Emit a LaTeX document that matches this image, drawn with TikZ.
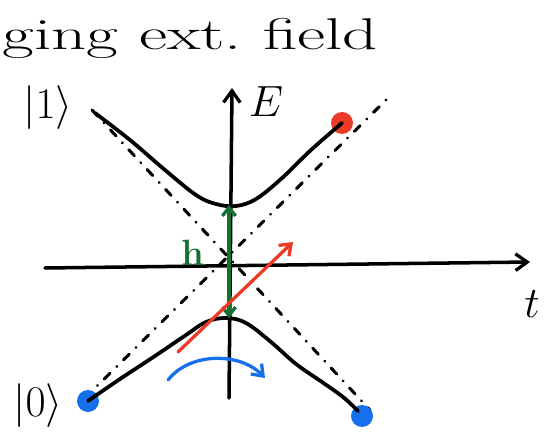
\documentclass[tikz,border=0pt]{standalone}
\usepackage{graphicx}
\usepackage{tikz}
\usetikzlibrary{arrows.meta, positioning}
\definecolor{dotred}{RGB}{236,58,38}
\definecolor{dotblue}{RGB}{22,112,236}
\definecolor{gapgreen}{RGB}{22,112,52}
\newcommand{\biglbl}[1]{\scalebox{1.5}{#1}}

\begin{document}
\begin{tikzpicture}[
  x=0.03cm, y=-0.03cm,
  every node/.style={font=\fontsize{24}{28}\selectfont},
  axis/.style={line width=3pt, line cap=round, -{Straight Barb[length=3.5mm, width=5mm, line width=2.8pt]}},
  branch/.style={line width=3.2pt, line cap=round, line join=round},
  asym/.style={line width=2.6pt, line cap=round, dash pattern=on 7pt off 8pt on 0.1pt off 8pt},
  state/.style={circle, fill, inner sep=0pt, minimum size=0.66cm},
  hand/.style={line width=2.8pt, line cap=round}
]
  \useasboundingbox (0,0) rectangle (555,432);

  % Title
  \node[anchor=base west, inner sep=0pt, xscale=1.55, font=\fontsize{38}{42}\selectfont] (title) at (2,50) {ging ext.\ field};

  % Axes
  \coordinate (tl) at (45,268);
  \coordinate (tr) at (530,262);
  \coordinate (eb) at (229,398);
  \coordinate (et) at (232,88);
  \draw[axis] (tl) -- (tr);
  \draw[axis] (eb) -- (et);
  \node (E) at (266,102) {\biglbl{$E$}};
  \node (t) at (532,304) {\biglbl{$t$}};

  % Asymptotes
  \coordinate (a1) at (92,110);
  \coordinate (a2) at (370,410);
  \coordinate (b1) at (85,398);
  \coordinate (b2) at (388,98);
  \draw[asym] (a1) -- (a2);
  \draw[asym] (b1) -- (b2);

  % Levels
  \node[state, dotred] (up) at (342,123) {};
  \node[state, dotblue] (lo1) at (88,401) {};
  \node[state, dotblue] (lo2) at (362,416) {};
  \draw[branch] plot[smooth, tension=0.6] coordinates {(95,113) (130,140) (165,170) (196,195) (216,204) (236,206) (256,199) (281,179) (311,150) (342,123)};
  \draw[branch] plot[smooth, tension=0.6] coordinates {(88,401) (120,379) (155,356) (186,335) (206,322) (226,318) (246,323) (271,342) (296,364) (322,382) (343,397) (358,411)};

  \node (one) at (48,108) {\biglbl{$|1\rangle$}};
  \node (zero) at (38,406) {\biglbl{$|0\rangle$}};

  % Gap
  \coordinate (gt) at (229,205);
  \coordinate (gb) at (229,318);
  \draw[hand, gapgreen, {Straight Barb[length=2.5mm, width=4mm]}-{Straight Barb[length=2.5mm, width=4mm]}] (gt) -- (gb);
  \node[gapgreen, font=\fontsize{24}{28}\selectfont\bfseries] (gap) at (193,253) {\scalebox{1.3}{h}};

  % Sweeps
  \coordinate (rs) at (178,352);
  \coordinate (re) at (293,242);
  \draw[hand, dotred, -{Straight Barb[length=3mm, width=4.5mm]}] (rs) -- (re);
  \coordinate (bs) at (168,380);
  \coordinate (be) at (265,378);
  \draw[hand, dotblue, -{Straight Barb[length=3mm, width=4.5mm]}] (bs) .. controls (190,352) and (240,352) .. (be);

\end{tikzpicture}
\end{document}
